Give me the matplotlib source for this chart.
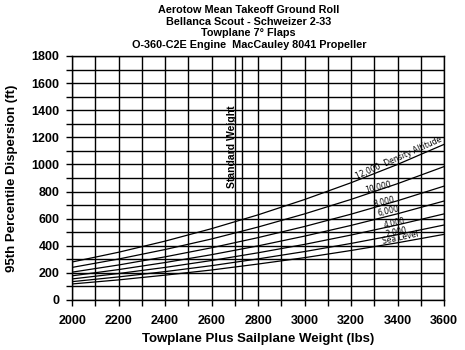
import matplotlib
matplotlib.use("Agg")
import matplotlib.pyplot as plt
from matplotlib.ticker import MultipleLocator

plt.rcParams["font.family"] = ["Liberation Sans", "DejaVu Sans"]

weights = [2000, 2200, 2400, 2600, 2800, 3000, 3200, 3400, 3600]

# 95th percentile dispersion (ft) per density altitude
curves = {
    "12,000": [280, 352, 434, 526, 628, 741, 865, 1000, 1148],
    "10,000": [240, 302, 372, 450, 538, 635, 742, 858, 984],
    "8,000": [205, 258, 318, 385, 460, 542, 633, 732, 840],
    "6,000": [178, 224, 276, 334, 399, 471, 550, 636, 730],
    "4,000": [155, 195, 240, 291, 348, 410, 479, 554, 635],
    "2,000": [135, 170, 209, 253, 303, 357, 417, 482, 553],
    "Sea Level": [118, 148, 183, 221, 265, 312, 365, 422, 484],
}

label_text = ["12,000  Density Altitude", "10,000", "8,000", "6,000",
              "4,000", "2,000", "Sea Level"]
label_x = [3406, 3316, 3342, 3359, 3385, 3394, 3411]
label_y = [1048, 834, 723, 656, 568, 502, 457]
label_rot = [24, 14, 14, 13, 13, 12, 12]

standard_weight = 2730

title_lines = [
    "Aerotow Mean Takeoff Ground Roll",
    "Bellanca Scout - Schweizer 2-33",
    "Towplane 7° Flaps",
    "O-360-C2E Engine  MacCauley 8041 Propeller",
]


def main():
    fig = plt.figure(figsize=(4.65, 3.5), dpi=100)
    ax = fig.add_axes([0.155, 0.143, 0.80, 0.697])

    for name, values in curves.items():
        ax.plot(weights, values, color="black", lw=0.9)

    for text, x, y, rot in zip(label_text, label_x, label_y, label_rot):
        ax.text(x, y, text, fontsize=5.5, rotation=rot, ha="center",
                va="center", family="DejaVu Sans")

    ax.axvline(standard_weight, color="black", lw=1)
    ax.text(2688, 1128, "Standard Weight", rotation=90, fontsize=7.5,
            fontweight="bold", ha="center", va="center")

    ax.set_xlim(2000, 3600)
    ax.set_ylim(0, 1800)
    ax.xaxis.set_major_locator(MultipleLocator(200))
    ax.xaxis.set_minor_locator(MultipleLocator(100))
    ax.yaxis.set_major_locator(MultipleLocator(200))
    ax.yaxis.set_minor_locator(MultipleLocator(100))
    ax.grid(which="both", color="black", lw=1)
    ax.set_axisbelow(True)
    ax.tick_params(which="both", direction="out", length=4, width=1)
    ax.tick_params(axis="x", pad=7)
    ax.tick_params(axis="y", pad=5)
    for lab in ax.get_xticklabels() + ax.get_yticklabels():
        lab.set_fontweight("bold")
        lab.set_fontsize(9)
    for spine in ax.spines.values():
        spine.set_linewidth(1)

    ax.set_xlabel("Towplane Plus Sailplane Weight (lbs)", fontsize=9.5,
                  fontweight="bold", labelpad=4)
    ax.set_ylabel("95th Percentile Dispersion (ft)", fontsize=9.5,
                  fontweight="bold", labelpad=10)

    fig.text(0.535, 0.985, "\n".join(title_lines), ha="center", va="top",
             fontsize=7.8, fontweight="bold", linespacing=1.2)

    fig.savefig("out.png", dpi=100, facecolor="white")


if __name__ == "__main__":
    main()
